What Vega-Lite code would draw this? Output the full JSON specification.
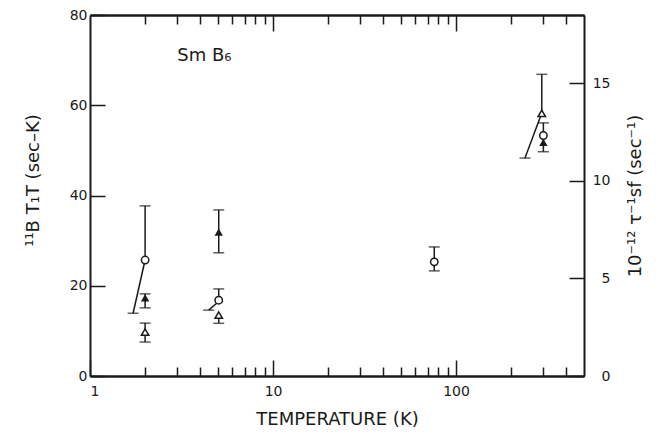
{
  "$schema": "https://vega.github.io/schema/vega-lite/v6.json",
  "width": 494,
  "height": 361,
  "autosize": "none",
  "padding": {"left": 90, "top": 15, "right": 87, "bottom": 63},
  "background": "white",
  "config": {
    "view": {"stroke": null},
    "axis": {
      "grid": false,
      "domainColor": "#1a1a1a",
      "domainWidth": 2,
      "tickColor": "#1a1a1a",
      "tickWidth": 1.5,
      "labelFont": "DejaVu Sans",
      "labelFontSize": 14,
      "labelColor": "#1a1a1a",
      "titleFont": "DejaVu Sans",
      "titleFontWeight": "normal",
      "titleColor": "#1a1a1a"
    }
  },
  "datasets": {
    "pts": [
      {"T": 2, "v": 25.7, "hi": 37.7, "lo": null, "s": "circle"},
      {"T": 5.05, "v": 16.8, "hi": 19.3, "lo": null, "s": "circle"},
      {"T": 76, "v": 25.3, "hi": 28.6, "lo": 23.3, "s": "circle"},
      {"T": 300, "v": 53.3, "hi": 56.1, "lo": 49.7, "s": "circle"},
      {"T": 2, "v": 17.3, "hi": 18.2, "lo": 15.1, "s": "filled"},
      {"T": 5.05, "v": 31.9, "hi": 36.8, "lo": 27.3, "s": "filled"},
      {"T": 300, "v": 51.8, "hi": null, "lo": null, "s": "filled"}
    ],
    "tri": [
      {"T": 2, "v": 2.25, "hi": 2.71, "lo": 1.74},
      {"T": 5.05, "v": 3.12, "hi": null, "lo": 2.7},
      {"T": 294, "v": 13.46, "hi": 15.46, "lo": null}
    ],
    "lines": [
      {"g": "a", "T": 1.72, "v": 13.9},
      {"g": "a", "T": 2, "v": 25.7},
      {"g": "b", "T": 4.45, "v": 14.6},
      {"g": "b", "T": 5.05, "v": 16.5},
      {"g": "c", "T": 238, "v": 48.3},
      {"g": "c", "T": 294, "v": 58.3}
    ],
    "lineBases": [
      {"T": 1.72, "v": 13.9},
      {"T": 4.45, "v": 14.6},
      {"T": 238, "v": 48.3}
    ],
    "labels": [
      {"label": "Sm B₆", "T": 3.0, "v": 71}
    ]
  },
  "resolve": {"scale": {"y": "independent"}, "axis": {"x": "independent", "y": "independent"}},
  "layer": [
    {
      "data": {"name": "lines"},
      "mark": {"type": "line", "color": "#1a1a1a", "strokeWidth": 1.5},
      "encoding": {
        "x": {"field": "T", "type": "quantitative", "scale": {"type": "log", "domain": [1, 500], "nice": false},
          "axis": {"orient": "bottom", "values": [1, 10, 100], "tickSize": -16, "labelPadding": 24, "labelFontSize": 14, "title": "TEMPERATURE (K)", "titleFontSize": 18, "titlePadding": 12}},
        "y": {"field": "v", "type": "quantitative", "scale": {"domain": [0, 80], "nice": false},
          "axis": {"orient": "left", "values": [0, 20, 40, 60, 80], "tickSize": -15, "labelPadding": 18, "title": "¹¹B T₁T (sec–K)", "titleFontSize": 18, "titlePadding": 27, "titleY": 165}},
        "detail": {"field": "g"}
      }
    },
    {
      "data": {"name": "lineBases"},
      "mark": {"type": "tick", "orient": "horizontal", "color": "#1a1a1a", "size": 11, "thickness": 1.5},
      "encoding": {
        "x": {"field": "T", "type": "quantitative", "scale": {"type": "log", "domain": [1, 500], "nice": false},
          "axis": {"orient": "bottom", "values": [2, 3, 4, 5, 6, 7, 8, 9, 20, 30, 40, 50, 60, 70, 80, 90, 200, 300, 400], "tickSize": -9, "labels": false, "title": null}},
        "y": {"field": "v", "type": "quantitative", "scale": {"domain": [0, 80], "nice": false}, "axis": null}
      }
    },
    {
      "data": {"name": "pts"},
      "mark": {"type": "rule", "color": "#1a1a1a", "strokeWidth": 1.5},
      "encoding": {
        "x": {"field": "T", "type": "quantitative", "scale": {"type": "log", "domain": [1, 500], "nice": false},
          "axis": {"orient": "top", "values": [10, 100], "tickSize": -16, "labels": false, "title": null}},
        "y": {"field": "v", "type": "quantitative", "scale": {"domain": [0, 80], "nice": false}, "axis": null},
        "y2": {"field": "hi"}
      }
    },
    {
      "data": {"name": "pts"},
      "mark": {"type": "rule", "color": "#1a1a1a", "strokeWidth": 1.5},
      "encoding": {
        "x": {"field": "T", "type": "quantitative", "scale": {"type": "log", "domain": [1, 500], "nice": false},
          "axis": {"orient": "top", "values": [2, 3, 4, 5, 6, 7, 8, 9, 20, 30, 40, 50, 60, 70, 80, 90, 200, 300, 400], "tickSize": -9, "labels": false, "title": null}},
        "y": {"field": "lo", "type": "quantitative", "scale": {"domain": [0, 80], "nice": false}, "axis": null},
        "y2": {"field": "v"}
      }
    },
    {
      "data": {"name": "pts"},
      "mark": {"type": "tick", "orient": "horizontal", "color": "#1a1a1a", "size": 11, "thickness": 1.5},
      "encoding": {
        "x": {"field": "T", "type": "quantitative", "scale": {"type": "log", "domain": [1, 500], "nice": false}, "axis": null},
        "y": {"field": "hi", "type": "quantitative", "scale": {"domain": [0, 80], "nice": false}, "axis": null}
      }
    },
    {
      "data": {"name": "pts"},
      "mark": {"type": "tick", "orient": "horizontal", "color": "#1a1a1a", "size": 11, "thickness": 1.5},
      "encoding": {
        "x": {"field": "T", "type": "quantitative", "scale": {"type": "log", "domain": [1, 500], "nice": false}, "axis": null},
        "y": {"field": "lo", "type": "quantitative", "scale": {"domain": [0, 80], "nice": false}, "axis": null}
      }
    },
    {
      "data": {"name": "pts"},
      "transform": [{"filter": "datum.s === 'filled'"}],
      "mark": {"type": "point", "shape": "triangle-up", "filled": true, "color": "#1a1a1a", "size": 70, "opacity": 1},
      "encoding": {
        "x": {"field": "T", "type": "quantitative", "scale": {"type": "log", "domain": [1, 500], "nice": false}, "axis": null},
        "y": {"field": "v", "type": "quantitative", "scale": {"domain": [0, 80], "nice": false}, "axis": null}
      }
    },
    {
      "data": {"name": "pts"},
      "transform": [{"filter": "datum.s === 'circle'"}],
      "mark": {"type": "point", "shape": "circle", "filled": false, "fill": "white", "fillOpacity": 1, "stroke": "#1a1a1a", "strokeWidth": 1.5, "size": 55, "opacity": 1},
      "encoding": {
        "x": {"field": "T", "type": "quantitative", "scale": {"type": "log", "domain": [1, 500], "nice": false}, "axis": null},
        "y": {"field": "v", "type": "quantitative", "scale": {"domain": [0, 80], "nice": false}, "axis": null}
      }
    },
    {
      "data": {"name": "tri"},
      "mark": {"type": "rule", "color": "#1a1a1a", "strokeWidth": 1.5},
      "encoding": {
        "x": {"field": "T", "type": "quantitative", "scale": {"type": "log", "domain": [1, 500], "nice": false}, "axis": null},
        "y": {"field": "v", "type": "quantitative", "scale": {"domain": [0, 18.5], "nice": false}, "axis": null},
        "y2": {"field": "hi"}
      }
    },
    {
      "data": {"name": "tri"},
      "mark": {"type": "rule", "color": "#1a1a1a", "strokeWidth": 1.5},
      "encoding": {
        "x": {"field": "T", "type": "quantitative", "scale": {"type": "log", "domain": [1, 500], "nice": false}, "axis": null},
        "y": {"field": "lo", "type": "quantitative", "scale": {"domain": [0, 18.5], "nice": false}, "axis": null},
        "y2": {"field": "v"}
      }
    },
    {
      "data": {"name": "tri"},
      "mark": {"type": "tick", "orient": "horizontal", "color": "#1a1a1a", "size": 11, "thickness": 1.5},
      "encoding": {
        "x": {"field": "T", "type": "quantitative", "scale": {"type": "log", "domain": [1, 500], "nice": false}, "axis": null},
        "y": {"field": "hi", "type": "quantitative", "scale": {"domain": [0, 18.5], "nice": false}, "axis": null}
      }
    },
    {
      "data": {"name": "tri"},
      "mark": {"type": "tick", "orient": "horizontal", "color": "#1a1a1a", "size": 11, "thickness": 1.5},
      "encoding": {
        "x": {"field": "T", "type": "quantitative", "scale": {"type": "log", "domain": [1, 500], "nice": false}, "axis": null},
        "y": {"field": "lo", "type": "quantitative", "scale": {"domain": [0, 18.5], "nice": false}, "axis": null}
      }
    },
    {
      "data": {"name": "tri"},
      "mark": {"type": "point", "shape": "triangle-up", "filled": false, "fill": "white", "fillOpacity": 1, "stroke": "#1a1a1a", "strokeWidth": 1.5, "size": 55, "opacity": 1},
      "encoding": {
        "x": {"field": "T", "type": "quantitative", "scale": {"type": "log", "domain": [1, 500], "nice": false}, "axis": null},
        "y": {"field": "v", "type": "quantitative", "scale": {"domain": [0, 18.5], "nice": false},
          "axis": {"orient": "right", "values": [0, 5, 10, 15], "tickSize": -15, "labelPadding": 41, "labelAlign": "right", "title": "10⁻¹² τ⁻¹sf (sec⁻¹)", "titleFontSize": 18, "titleAngle": -90, "titlePadding": 34}}
      }
    },
    {
      "data": {"name": "labels"},
      "mark": {"type": "text", "align": "left", "baseline": "middle", "font": "DejaVu Sans", "fontSize": 18, "color": "#1a1a1a"},
      "encoding": {
        "x": {"field": "T", "type": "quantitative", "scale": {"type": "log", "domain": [1, 500], "nice": false}, "axis": null},
        "y": {"field": "v", "type": "quantitative", "scale": {"domain": [0, 80], "nice": false}, "axis": null},
        "text": {"field": "label"}
      }
    }
  ]
}
